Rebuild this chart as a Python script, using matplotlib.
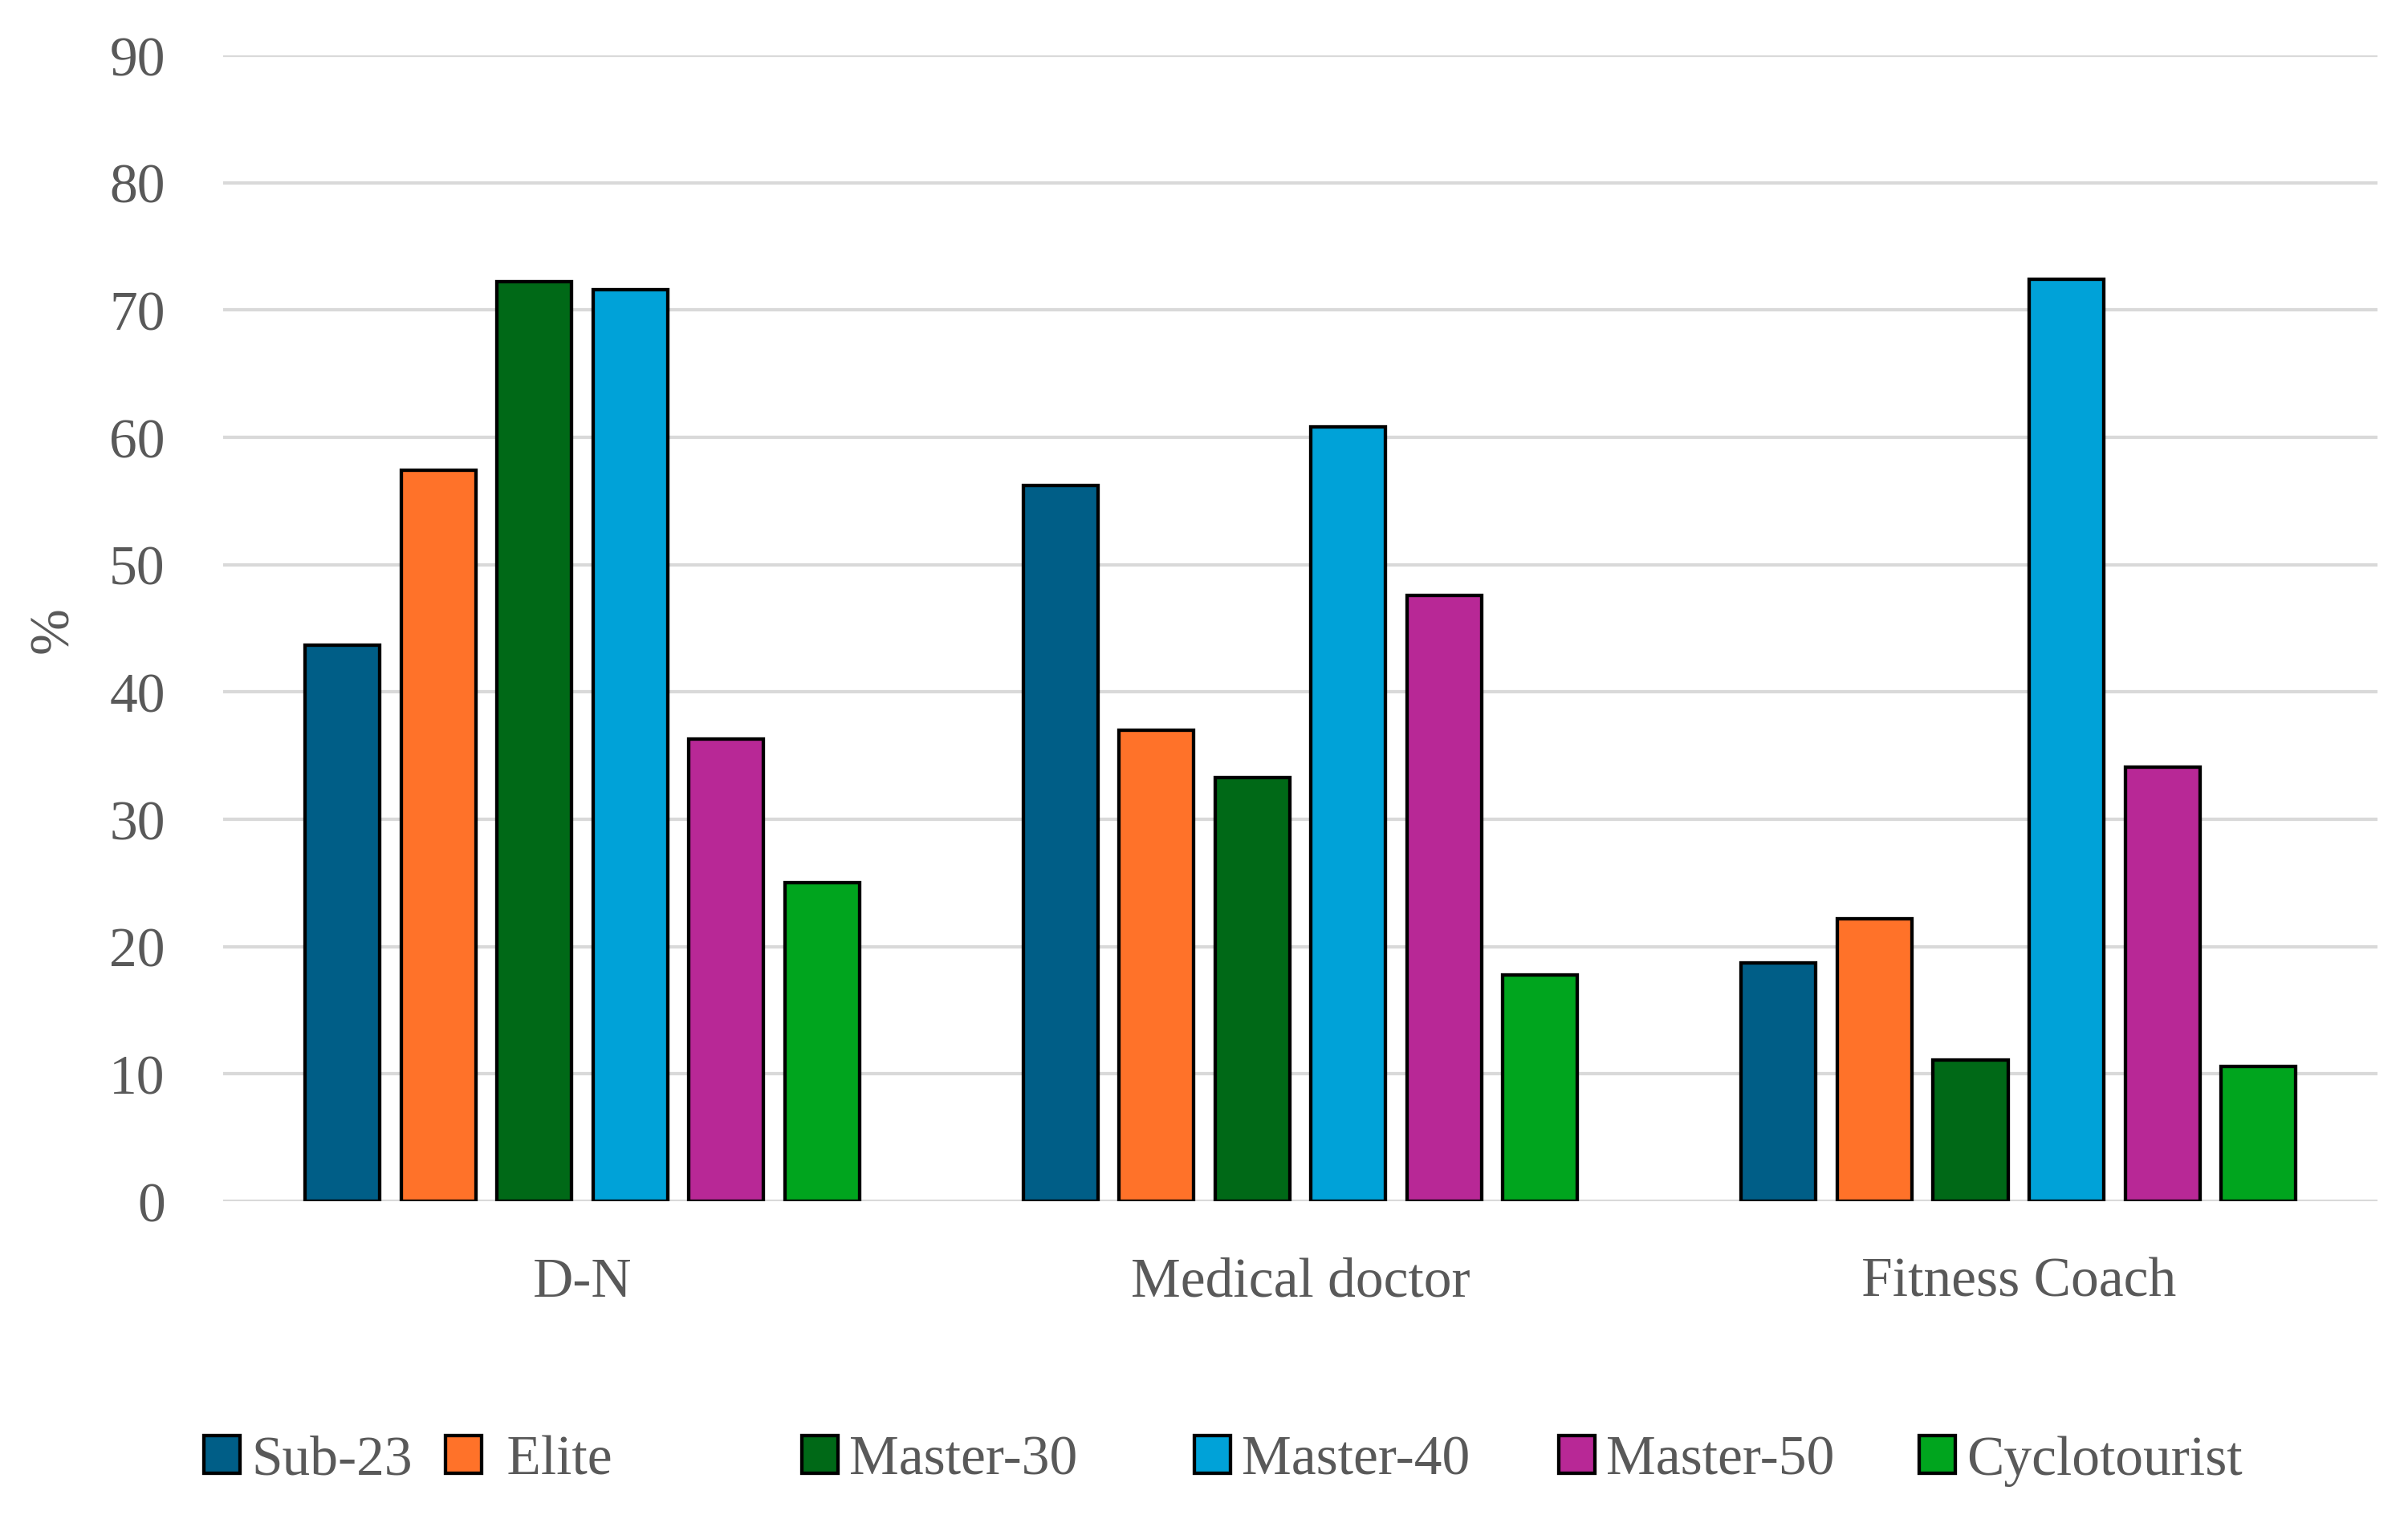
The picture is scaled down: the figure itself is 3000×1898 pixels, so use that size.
import matplotlib
matplotlib.use('Agg')
import matplotlib.pyplot as plt
import numpy as np

# ── Data ────────────────────────────────────────────────────────────────
categories = ["D-N", "Medical doctor", "Fitness Coach"]
groups = ["Sub-23", " Elite", "Master-30", "Master-40", "Master-50", "Cyclotourist"]

sub23        = [43.7, 56.2, 18.7]
elite        = [57.4, 37.0, 22.2]
master30     = [72.2, 33.3, 11.1]
master40     = [71.6, 60.8, 72.4]
master50     = [36.3, 47.6, 34.1]
cyclotourist = [25.0, 17.8, 10.6]

series = [sub23, elite, master30, master40, master50, cyclotourist]
colors = ["#005E87", "#FF7229", "#006917", "#00A2D8", "#B82896", "#00A51E"]

yticks = [0, 10, 20, 30, 40, 50, 60, 70, 80, 90]

# ── Style ───────────────────────────────────────────────────────────────
plt.rcParams['font.family'] = ['Liberation Serif', 'DejaVu Serif']
TEXT = "#595959"
GRID = "#d9d9d9"
FS = 50

fig = plt.figure(figsize=(30, 18.99), dpi=100)
ax = fig.add_axes([0.09267, 0.21117, 0.8947, 0.75197])

x = np.arange(len(categories))
pitch = 0.1336
width = 0.104
handles = []
for i, (vals, col) in enumerate(zip(series, colors)):
    b = ax.bar(x + (i - 2.5) * pitch, vals, width=width, color=col,
               edgecolor='black', linewidth=3.1, zorder=3)
    handles.append(b)

ax.set_xlim(-0.5, 2.5)
ax.set_ylim(0, 90)
ax.set_yticks(yticks)
ax.set_xticks(x)
ax.set_xticklabels(categories)
ax.tick_params(axis='both', length=0, labelsize=FS, labelcolor=TEXT)
ax.tick_params(axis='y', pad=52)
ax.tick_params(axis='x', pad=50)

ax.yaxis.grid(True, color=GRID, linewidth=3.0, zorder=0)
ax.set_axisbelow(True)
for s in ax.spines.values():
    s.set_visible(False)

fig.text(67 / 3000, 1 - 785 / 1899, "%", rotation=90, ha='center', va='center',
         fontsize=FS, color=TEXT)

# legend entries placed one by one to match the spacing of the original
leg_x = [254, 555, 999, 1488, 1942, 2391]
leg_y = 1 - 1821 / 1899
for h, lab, lx in zip(handles, groups, leg_x):
    lg = fig.legend([h], [lab], loc='center left', bbox_to_anchor=(lx / 3000, leg_y),
                    frameon=False, fontsize=FS, handlelength=0.65, handleheight=0.65,
                    handletextpad=0.2, borderpad=0, borderaxespad=0)
    for t in lg.get_texts():
        t.set_color(TEXT)

fig.savefig('out.png', dpi=100)
